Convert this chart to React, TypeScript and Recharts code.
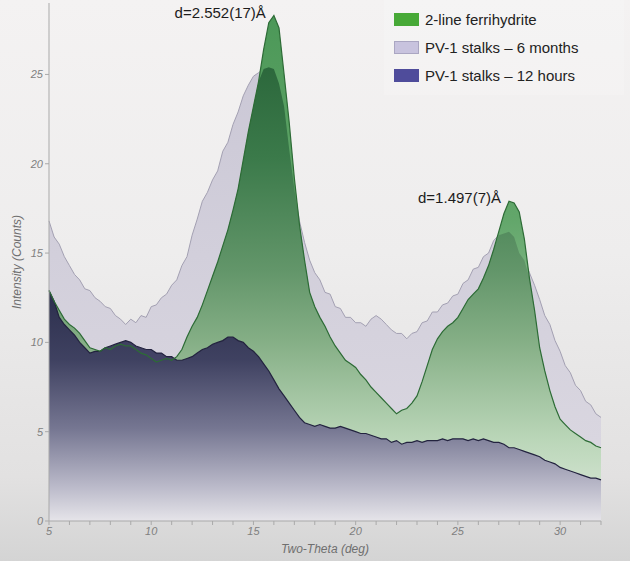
import React from 'react'
import {
  ComposedChart,
  Area,
  Line,
  XAxis,
  YAxis,
  Legend,
  ReferenceDot,
  Label,
} from 'recharts'

// two-theta grid (deg), 0.25 step
const twoTheta = [
  5, 5.25, 5.5, 5.75, 6, 6.25, 6.5, 6.75, 7, 7.25, 7.5, 7.75,
  8, 8.25, 8.5, 8.75, 9, 9.25, 9.5, 9.75, 10, 10.25, 10.5, 10.75,
  11, 11.25, 11.5, 11.75, 12, 12.25, 12.5, 12.75, 13, 13.25, 13.5, 13.75,
  14, 14.25, 14.5, 14.75, 15, 15.25, 15.5, 15.75, 16, 16.25, 16.5, 16.75,
  17, 17.25, 17.5, 17.75, 18, 18.25, 18.5, 18.75, 19, 19.25, 19.5, 19.75,
  20, 20.25, 20.5, 20.75, 21, 21.25, 21.5, 21.75, 22, 22.25, 22.5, 22.75,
  23, 23.25, 23.5, 23.75, 24, 24.25, 24.5, 24.75, 25, 25.25, 25.5, 25.75,
  26, 26.25, 26.5, 26.75, 27, 27.25, 27.5, 27.75, 28, 28.25, 28.5, 28.75,
  29, 29.25, 29.5, 29.75, 30, 30.25, 30.5, 30.75, 31, 31.25, 31.5, 31.75,
  32,
]

const ferrihydrite = [
  12.9, 12.3, 11.8, 11.3, 11.0, 10.8, 10.5, 10.1, 9.7, 9.6, 9.5, 9.7,
  9.6, 9.8, 9.9, 9.8, 9.8, 9.6, 9.4, 9.3, 9.1, 8.9, 9.0, 9.1,
  9.0, 9.2, 9.6, 10.3, 10.9, 11.4, 12.1, 12.9, 13.7, 14.5, 15.4, 16.3,
  17.4, 18.6, 20.2, 21.8, 23.2, 24.6, 26.4, 27.9, 28.3, 27.6, 25.0, 22.3,
  19.2, 16.6, 14.6, 12.8, 12.0, 11.4, 10.9, 10.3, 9.8, 9.4, 9.0, 8.8,
  8.6, 8.2, 7.9, 7.5, 7.2, 6.9, 6.6, 6.3, 6.0, 6.2, 6.3, 6.6,
  7.0, 7.8, 8.7, 9.6, 10.2, 10.6, 10.9, 11.1, 11.4, 11.9, 12.4, 12.7,
  13.0, 13.6, 14.3, 15.2, 16.2, 17.2, 17.9, 17.8, 17.3, 15.8, 13.6, 11.8,
  9.7, 8.4, 7.3, 6.4, 5.7, 5.4, 5.1, 4.9, 4.7, 4.5, 4.4, 4.2,
  4.1,
]

const sixMonths = [
  16.8, 15.9, 15.5, 14.8, 14.3, 13.8, 13.5, 13.0, 12.9, 12.5, 12.3, 12.0,
  11.9, 11.5, 11.3, 11.0, 11.3, 11.1, 11.5, 11.4, 12.0, 12.1, 12.5, 12.7,
  13.2, 13.5, 14.3, 14.8, 16.0, 16.9, 17.9, 18.4, 19.1, 19.6, 20.7, 21.2,
  22.2, 22.9, 23.8, 24.4, 24.9, 25.1, 25.3, 25.4, 25.3, 24.5, 23.2, 20.8,
  18.6, 16.8, 15.6, 14.6, 13.9, 13.5, 12.8, 12.7, 12.0, 11.9, 11.4, 11.4,
  11.1, 11.1, 10.9, 11.3, 11.5, 11.3, 11.0, 10.7, 10.5, 10.5, 10.2, 10.5,
  10.6, 11.1, 11.2, 11.7, 11.7, 12.1, 12.2, 12.6, 12.7, 13.3, 13.5, 14.1,
  14.2, 14.8, 15.0, 15.7, 16.0, 16.1, 16.2, 15.9, 15.0, 14.6, 13.9, 13.2,
  12.4, 11.5, 11.0, 10.1, 9.5, 8.7, 8.3, 7.6, 7.3, 6.7, 6.5, 6.0,
  5.8,
]

const twelveHours = [
  12.9, 12.3, 11.4, 11.0, 10.7, 10.4, 10.0, 9.7, 9.4, 9.5, 9.5, 9.7,
  9.8, 9.9, 10.0, 10.1, 10.0, 9.8, 9.7, 9.6, 9.6, 9.4, 9.4, 9.2,
  9.2, 9.0, 9.0, 9.1, 9.2, 9.4, 9.6, 9.7, 9.9, 10.0, 10.1, 10.3,
  10.3, 10.1, 10.0, 9.7, 9.5, 9.2, 8.8, 8.4, 7.9, 7.4, 7.0, 6.6,
  6.2, 5.8, 5.5, 5.4, 5.3, 5.4, 5.3, 5.2, 5.2, 5.3, 5.2, 5.1,
  5.0, 4.9, 4.9, 4.8, 4.7, 4.6, 4.6, 4.4, 4.5, 4.3, 4.4, 4.4,
  4.5, 4.4, 4.5, 4.5, 4.5, 4.6, 4.5, 4.6, 4.6, 4.6, 4.5, 4.6,
  4.5, 4.6, 4.5, 4.4, 4.4, 4.3, 4.1, 4.1, 4.0, 3.9, 3.8, 3.7,
  3.6, 3.4, 3.3, 3.2, 3.0, 2.9, 2.8, 2.7, 2.6, 2.5, 2.4, 2.4,
  2.3,
]

const xTicks = [5, 6, 7, 8, 9, 10, 11, 12, 13, 14, 15, 16, 17, 18, 19, 20, 21, 22, 23, 24, 25, 26, 27, 28, 29, 30, 31, 32]
const yTicks = [0, 5, 10, 15, 20, 25]

const peakX = [16.0, 27.5]
const peakY = [28.3, 17.9]
const peakLabels = ['d=2.552(17)Å', 'd=1.497(7)Å']

const legendLabels = ['2-line ferrihydrite', 'PV-1 stalks – 6 months', 'PV-1 stalks – 12 hours']
const legendColors = ['#47a937', '#c8c3de', '#4f4c9b']

const FONT = '"Liberation Sans", Arial, Helvetica, sans-serif'
const AXIS_TICK = { fill: '#7f7f7f', fontSize: 11, fontStyle: 'italic', fontFamily: FONT }
const AXIS_LABEL = { fill: '#6f6f6f', fontSize: 12, fontStyle: 'italic', fontFamily: FONT }

const data = twoTheta.map((x, i) => ({
  x,
  green: ferrihydrite[i],
  six: sixMonths[i],
  twelve: twelveHours[i],
  overlap: Math.min(ferrihydrite[i], sixMonths[i]),
}))

function PeakLabel(props: any) {
  const { viewBox, value } = props
  const cx = viewBox.x + viewBox.width / 2
  const cy = viewBox.y + viewBox.height / 2
  return (
    <text x={cx - 8} y={cy + 2} textAnchor="end" fontSize={15} fill="#1c1c1c" fontFamily={FONT}>
      {value}
    </text>
  )
}

function LegendBox() {
  return (
    <div
      style={{
        fontFamily: FONT,
        fontSize: 15,
        color: '#222',
        background: 'rgba(255,255,255,0.15)',
        padding: '5px 0 6px 10px',
      }}
    >
      {legendLabels.map((label, i) => (
        <div key={label} style={{ display: 'flex', alignItems: 'center', height: 28 }}>
          <span
            style={{
              display: 'inline-block',
              width: 25,
              height: 13,
              background: legendColors[i],
              border: i === 1 ? '1px solid #aaa6c2' : 'none',
              boxSizing: 'border-box',
              marginRight: 6,
            }}
          />
          {label}
        </div>
      ))}
    </div>
  )
}

export default function App() {
  return (
    <div
      style={{
        position: 'absolute',
        left: 0,
        top: 0,
        width: 630,
        height: 561,
        overflow: 'hidden',
        background: 'linear-gradient(to bottom, #f4f2f2 0%, #eeeded 45%, #e2e1e1 85%, #d4d4d4 100%)',
      }}
    >
      <ComposedChart width={630} height={561} data={data} margin={{ top: 3, right: 29, bottom: 0, left: 0 }}>
        <defs>
          <linearGradient id="lavFill" x1="0" y1="0" x2="0" y2="1">
            <stop offset="0%" stopColor="#cbc8d6" />
            <stop offset="100%" stopColor="#dcd9e2" />
          </linearGradient>
          <linearGradient id="greenFill" x1="0" y1="0" x2="0" y2="1">
            <stop offset="0%" stopColor="#4c9858" />
            <stop offset="40%" stopColor="#62a66a" />
            <stop offset="100%" stopColor="#d2e6d2" />
          </linearGradient>
          <linearGradient id="overlapFill" x1="0" y1="0" x2="0" y2="1">
            <stop offset="0%" stopColor="#2c683c" />
            <stop offset="20%" stopColor="#3b7a4a" />
            <stop offset="45%" stopColor="#63966a" />
            <stop offset="60%" stopColor="#84ae85" />
            <stop offset="72%" stopColor="#a2c4a1" />
            <stop offset="82%" stopColor="#bad6b8" />
            <stop offset="100%" stopColor="#dfeadd" />
          </linearGradient>
          <linearGradient id="navyFill" x1="0" y1="0" x2="0" y2="1">
            <stop offset="0%" stopColor="#27274a" />
            <stop offset="30%" stopColor="#3a3a5e" />
            <stop offset="60%" stopColor="#727190" />
            <stop offset="85%" stopColor="#b9b7c9" />
            <stop offset="100%" stopColor="#e6e4ea" />
          </linearGradient>
        </defs>
        <XAxis
          dataKey="x"
          type="number"
          domain={[5, 32]}
          ticks={xTicks}
          interval={0}
          tickFormatter={(v: number) => (v % 5 === 0 ? String(v) : '')}
          tick={AXIS_TICK}
          tickSize={4}
          tickMargin={2}
          height={40}
          axisLine={{ stroke: '#a9a9a9' }}
          tickLine={{ stroke: '#a9a9a9' }}
        >
          <Label value="Two-Theta (deg)" position="insideBottom" offset={8} style={AXIS_LABEL} />
        </XAxis>
        <YAxis
          type="number"
          domain={[0, 29]}
          ticks={yTicks}
          tick={AXIS_TICK}
          tickSize={4}
          tickMargin={2}
          width={49}
          axisLine={{ stroke: '#a9a9a9' }}
          tickLine={{ stroke: '#a9a9a9' }}
        >
          <Label
            value="Intensity (Counts)"
            angle={-90}
            position="insideLeft"
            offset={17}
            style={{ ...AXIS_LABEL, textAnchor: 'middle' }}
          />
        </YAxis>
        <Legend
          layout="horizontal"
          verticalAlign="middle"
          align="center"
          wrapperStyle={{ top: 0, left: 384, width: 240, height: 96 }}
          content={() => <LegendBox />}
        />
        <Area
          type="linear"
          dataKey="six"
          name={legendLabels[1]}
          fill="url(#lavFill)"
          fillOpacity={1}
          stroke="#a3a0b2"
          strokeWidth={1}
          dot={false}
          activeDot={false}
          isAnimationActive={false}
        />
        <Area
          type="linear"
          dataKey="green"
          name={legendLabels[0]}
          fill="url(#greenFill)"
          fillOpacity={1}
          stroke="none"
          dot={false}
          activeDot={false}
          isAnimationActive={false}
        />
        <Area
          type="linear"
          dataKey="overlap"
          legendType="none"
          fill="url(#overlapFill)"
          fillOpacity={1}
          stroke="none"
          dot={false}
          activeDot={false}
          isAnimationActive={false}
        />
        <Line
          type="linear"
          dataKey="green"
          legendType="none"
          stroke="#2d6b36"
          strokeWidth={1.2}
          dot={false}
          activeDot={false}
          isAnimationActive={false}
        />
        <Area
          type="linear"
          dataKey="twelve"
          name={legendLabels[2]}
          fill="url(#navyFill)"
          fillOpacity={0.94}
          stroke="#23233f"
          strokeWidth={1.2}
          dot={false}
          activeDot={false}
          isAnimationActive={false}
        />
        {peakX.map((px, i) => (
          <ReferenceDot
            key={peakLabels[i]}
            x={px}
            y={peakY[i]}
            r={0}
            fill="none"
            stroke="none"
            label={<PeakLabel value={peakLabels[i]} />}
          />
        ))}
      </ComposedChart>
    </div>
  )
}
